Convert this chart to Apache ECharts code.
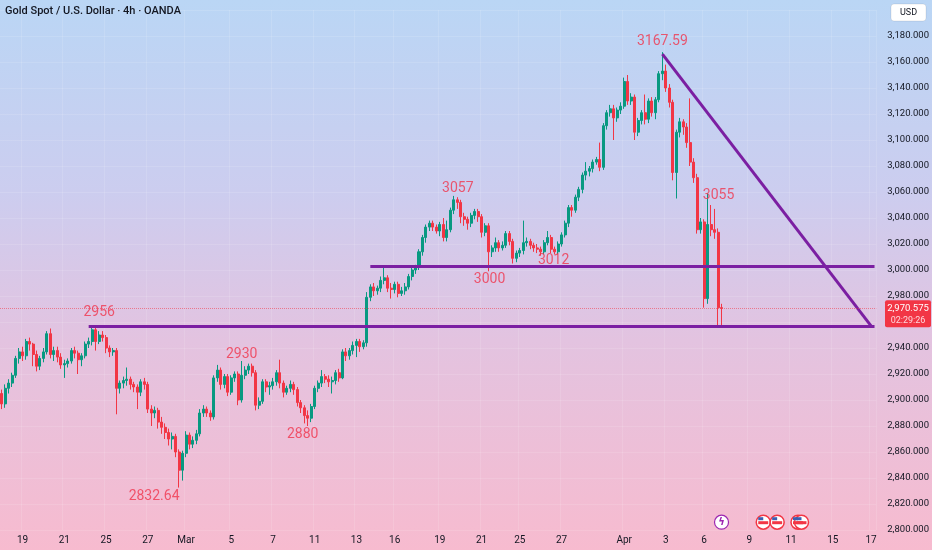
<!DOCTYPE html>
<html><head><meta charset="utf-8">
<script src="https://cdn.jsdelivr.net/npm/echarts@6/dist/echarts.min.js"></script>
<style>
html,body{margin:0;padding:0;width:932px;height:550px;overflow:hidden;}
body{background:linear-gradient(180deg,#bad6f5 0%,#cccdef 35%,#e3c3e0 62%,#f7bbcf 100%);}
#c{width:932px;height:550px;}
</style></head><body><div id="c"></div>
<script>
const title = 'Gold Spot / U.S. Dollar · 4h · OANDA';
const slotCount = 252;
const tickIndex = [6,18,30,42,53,66,78,90,102,113,126,138,149,161,179,191,202,215,227,239,250];
const tickLabels = ['19','21','25','27','Mar','5','7','11','13','16','19','21','25','27','Apr','3','6','9','11','15','17'];
// [open, close, low, high]
const candles = [
[2905,2897,2893,2908],[2897,2909,2894,2912],[2909,2913,2905,2916],[2913,2919,2910,2921],[2919,2932,2917,2934],
[2932,2937,2928,2940],[2937,2934,2930,2941],[2934,2945,2931,2947],[2945,2943,2938,2948],[2943,2935,2926,2944],
[2935,2926,2922,2938],[2926,2932,2923,2934],[2932,2937,2929,2940],[2937,2951,2935,2953],[2951,2935,2932,2955],
[2935,2938,2930,2941],[2938,2933,2929,2941],[2933,2927,2924,2936],[2927,2928,2917,2931],[2928,2930,2925,2932],
[2930,2938,2928,2940],[2938,2936,2932,2941],[2936,2931,2920,2938],[2931,2934,2926,2936],[2934,2943,2932,2945],
[2943,2945,2940,2948],[2945,2954,2942,2956.5],[2954,2945,2938,2956],[2945,2950,2943,2953],[2950,2948,2945,2953],
[2948,2940,2936,2950],[2940,2937,2933,2942],[2937,2938,2934,2940],[2938,2909,2889,2940],[2909,2913,2905,2915],
[2913,2915,2909,2918],[2915,2916,2911,2925],[2916,2912,2908,2918],[2912,2910,2906,2914],[2910,2906,2893,2912],
[2906,2914,2903,2916],[2914,2912,2908,2917],[2912,2893,2890,2914],[2893,2890,2880,2896],[2890,2892,2886,2895],
[2892,2883,2878,2894],[2883,2879,2874,2887],[2879,2875,2870,2882],[2875,2870,2865,2878],[2870,2872,2862,2875],
[2872,2860,2856,2874],[2860,2846,2832.64,2862],[2846,2859,2838,2861],[2859,2873,2856,2876],[2873,2866,2862,2875],
[2866,2869,2863,2872],[2869,2874,2866,2877],[2874,2890,2872,2893],[2890,2893,2887,2896],[2893,2890,2887,2895],
[2890,2887,2884,2892],[2887,2917,2885,2919],[2917,2923,2914,2927],[2923,2912,2908,2925],[2912,2918,2909,2920],
[2918,2906,2903,2920],[2906,2917,2904,2919],[2917,2920,2914,2922],[2920,2900,2896,2922],[2900,2919,2898,2930],
[2919,2923,2916,2926],[2923,2926,2920,2928],[2926,2921,2918,2928],[2921,2896,2892,2923],[2896,2899,2893,2902],
[2899,2914,2897,2916],[2914,2910,2906,2916],[2910,2911,2904,2914],[2911,2914,2908,2917],[2914,2921,2911,2923],
[2921,2913,2909,2931],[2913,2906,2902,2915],[2906,2909,2904,2911],[2909,2912,2906,2915],[2912,2908,2904,2914],
[2908,2898,2895,2910],[2898,2894,2890,2900],[2894,2888,2882,2896],[2888,2886,2880,2892],[2886,2895,2883,2897],
[2895,2909,2893,2911],[2909,2913,2906,2915],[2913,2918,2910,2923],[2918,2916,2913,2920],[2916,2914,2910,2919],
[2914,2915,2905,2918],[2915,2921,2912,2923],[2921,2917,2914,2924],[2917,2937,2916,2939],[2937,2934,2930,2940],
[2934,2938,2931,2940],[2938,2942,2935,2945],[2942,2945,2933,2947],[2945,2941,2937,2947],[2941,2944,2939,2946],
[2944,2979,2941,2983],[2979,2987,2976,2989],[2987,2984,2980,2990],[2984,2986,2981,2988],[2986,2992,2983,2995],
[2992,2994,2989,3003],[2994,2986,2983,2996],[2986,2985,2978,2990],[2985,2989,2982,2991],[2989,2982,2979,2991],
[2982,2984,2980,2987],[2984,2987,2981,2990],[2987,2995,2985,2997],[2995,3000,2992,3002],[3000,3002,2997,3004],
[3002,3014,3000,3016],[3014,3025,3011,3027],[3025,3033,3021,3035],[3033,3036,3030,3038],[3036,3033,3030,3038],
[3033,3030,3028,3035],[3030,3035,3026,3037],[3035,3025,3022,3040],[3025,3031,3022,3038],[3031,3046,3029,3048],
[3046,3054,3043,3057],[3054,3052,3047,3056],[3052,3041,3036,3054],[3041,3039,3034,3044],[3039,3036,3031,3041],
[3036,3042,3033,3044],[3042,3045,3039,3047],[3045,3041,3037,3047],[3041,3029,3025,3043],[3029,3034,3026,3036],
[3034,3014,2999,3036],[3014,3017,3010,3019],[3017,3021,3014,3025],[3021,3017,3014,3023],[3017,3019,3015,3022],
[3019,3028,3017,3030],[3028,3022,3019,3030],[3022,3009,3005,3024],[3009,3013,3006,3015],[3013,3015,3010,3017],
[3015,3021,3012,3038],[3021,3022,3018,3025],[3022,3019,3016,3024],[3019,3017,3014,3021],[3017,3016,3013,3020],
[3016,3014,3011,3018],[3014,3021,3012,3023],[3021,3025,3019,3030],[3025,3016,3013,3027],[3016,3014,3012,3018],
[3014,3020,3012,3022],[3020,3027,3018,3029],[3027,3036,3025,3038],[3036,3048,3033,3050],[3048,3046,3041,3050],
[3046,3056,3044,3058],[3056,3062,3053,3064],[3062,3073,3059,3075],[3073,3076,3069,3083],[3076,3078,3072,3080],
[3078,3083,3075,3085],[3083,3085,3081,3087],[3085,3079,3076,3098],[3079,3111,3077,3113],[3111,3121,3108,3123],
[3121,3124,3118,3127],[3124,3117,3100,3127],[3117,3123,3114,3125],[3123,3126,3120,3129],[3126,3145,3124,3148],
[3145,3130,3127,3150],[3130,3133,3127,3136],[3133,3106,3100,3135],[3106,3115,3103,3117],[3115,3121,3112,3123],
[3121,3116,3112,3135],[3116,3130,3113,3132],[3130,3121,3118,3133],[3121,3131,3116,3133],[3131,3151,3129,3153],
[3151,3153,3146,3167.59],[3153,3140,3137,3158],[3140,3129,3125,3143],[3129,3075,3069,3131],[3075,3106,3055,3108],
[3106,3114,3102,3117],[3114,3110,3104,3116],[3110,3098,3094,3113],[3098,3083,3080,3132],[3083,3071,3067,3086],
[3071,3031,3028,3074],[3031,3037,3028,3040],[3037,2978,2971,3039],[2978,3035,2974,3059],[3035,3031,3026,3050],
[3031,3029,3024,3047],[3029,2971,2956,3032],[2971,2970.575,2957,2974]
];
const lastPrice = 2970.575;
const countdown = '02:29:26';
const annoIndex = [26,69,88,51,130,140,159,190,203];
const annoPrice = [2956.5,2930,2880,2832.64,3057,2999,3012,3167.59,3059];
const annoText = ['2956','2930','2880','2832.64','3057','3000','3012','3167.59','3055'];
const supportLevel = 2957, supportStart = 25;
const resistanceLevel = 3003, resistanceStart = 106;
const trendStart = [190, 3166], trendEnd = [250, 2957];
const eventIndex = [207, 219, 223, 229, 230];
const eventKind = ['bolt','us','us','us','us'];

// styles
const annoOffset = [[7,-14],[0,-7],[-5,8],[-25,9],[4,-7],[1,8],[-1,6],[0,-11],[11,2]];
const UP = '#089981', DOWN = '#f23645', PURPLE = '#7b1fa2';
const FONT = 'Roboto, "Liberation Sans", sans-serif';

const fmt = v => v.toLocaleString('en-US',{minimumFractionDigits:3, maximumFractionDigits:3});
const chart = echarts.init(document.getElementById('c'), null, {renderer:'canvas'});
const cats = Array.from({length: slotCount}, (_, i) => String(i));

chart.setOption({
  animation:false,
  backgroundColor:'transparent',
  grid:{left:0, right:50, top:10, bottom:20},
  xAxis:{type:'category', data:cats, boundaryGap:true,
    axisLine:{show:false}, axisTick:{show:false},
    splitLine:{show:true, interval:(i)=>tickIndex.includes(i), lineStyle:{color:'rgba(255,255,255,0.12)'}},
    axisLabel:{interval:(i)=>tickIndex.includes(i), formatter:(v,i)=>tickLabels[tickIndex.indexOf(Number(v))],
      color:'#131722', fontSize:10, fontFamily:FONT, margin:5}},
  yAxis:{type:'value', position:'right', min:2800, max:3200, interval:20,
    axisLine:{show:false}, axisTick:{show:false},
    splitLine:{show:true, lineStyle:{color:'rgba(255,255,255,0.12)'}},
    axisLabel:{margin:11, fontSize:9.5, color:'#131722', fontFamily:FONT, align:'left',
      formatter:v => (v>=3200 || v===2960) ? '' : fmt(v)}},
  series:[
    {type:'candlestick', data:candles, barWidth:'72%',
      itemStyle:{color:UP, color0:DOWN, borderColor:UP, borderColor0:DOWN, borderWidth:1},
      markLine:{silent:true, symbol:['none','none'], animation:false, label:{show:false},
        lineStyle:{color:PURPLE, width:3, type:'solid'},
        data:[
          [{coord:[supportStart, supportLevel]},{coord:[slotCount-1, supportLevel]}],
          [{coord:[resistanceStart, resistanceLevel]},{coord:[slotCount-1, resistanceLevel]}],
          [{coord:trendStart},{coord:trendEnd}],
          {yAxis:lastPrice, lineStyle:{color:'rgba(242,54,69,0.55)', width:1, type:'dotted'}}
        ]}
    },
    {type:'scatter', symbol:'circle', symbolSize:1, silent:true, z:5,
      itemStyle:{color:'transparent'},
      data:annoIndex.map((x,k)=>({value:[x, annoPrice[k]], label:{offset:annoOffset[k]}})),
      label:{show:true, position:'inside', formatter:p=>annoText[p.dataIndex],
        color:'#f0364e', fontSize:14, fontFamily:FONT}}
  ]
});

const py = chart.convertToPixel({yAxisIndex:0}, lastPrice);
const evY = chart.convertToPixel({yAxisIndex:0}, 2806);
const graphics = [
  {type:'text', left:5, top:6, z:100, style:{text:title, fill:'#131722', font:'500 11px '+FONT}},
  {type:'rect', z:100, shape:{x:891, y:4, width:35, height:17, r:3}, style:{fill:'#ffffff', stroke:'rgba(0,0,0,0.08)'}},
  {type:'text', z:101, x:908.5, y:12.5, style:{text:'USD', fill:'#131722', font:'9px '+FONT, align:'center', verticalAlign:'middle'}},
  {type:'rect', z:100, shape:{x:885, y:py-8, width:46, height:27, r:2}, style:{fill:'#f23645'}},
  {type:'text', z:101, x:908, y:py, style:{text:fmt(lastPrice), fill:'#ffffff', font:'9.5px '+FONT, align:'center', verticalAlign:'middle'}},
  {type:'text', z:101, x:908, y:py+12, style:{text:countdown, fill:'#ffd6da', font:'9px '+FONT, align:'center', verticalAlign:'middle'}}
];
eventIndex.forEach((idx,k)=>{
  const ex = chart.convertToPixel({xAxisIndex:0}, idx);
  if(eventKind[k]==='bolt'){
    graphics.push({type:'circle', z:100, shape:{cx:ex, cy:evY, r:7}, style:{fill:'#ffffff', stroke:'#9c27b0', lineWidth:1.2}});
    graphics.push({type:'text', z:101, x:ex, y:evY, style:{text:'ϟ', fill:'#9c27b0', font:'bold 10px DejaVu Sans', align:'center', verticalAlign:'middle'}});
  } else {
    graphics.push({type:'circle', z:100, shape:{cx:ex, cy:evY, r:7}, style:{fill:'#ffffff', stroke:'#f23645', lineWidth:1.5}});
    graphics.push({type:'rect', z:101, shape:{x:ex-5, y:evY-1, width:10, height:3}, style:{fill:'#f23645'}});
    graphics.push({type:'rect', z:101, shape:{x:ex-5, y:evY-5, width:5, height:3}, style:{fill:'#3c5fb0'}});
  }
});
chart.setOption({graphic:graphics});
</script></body></html>
